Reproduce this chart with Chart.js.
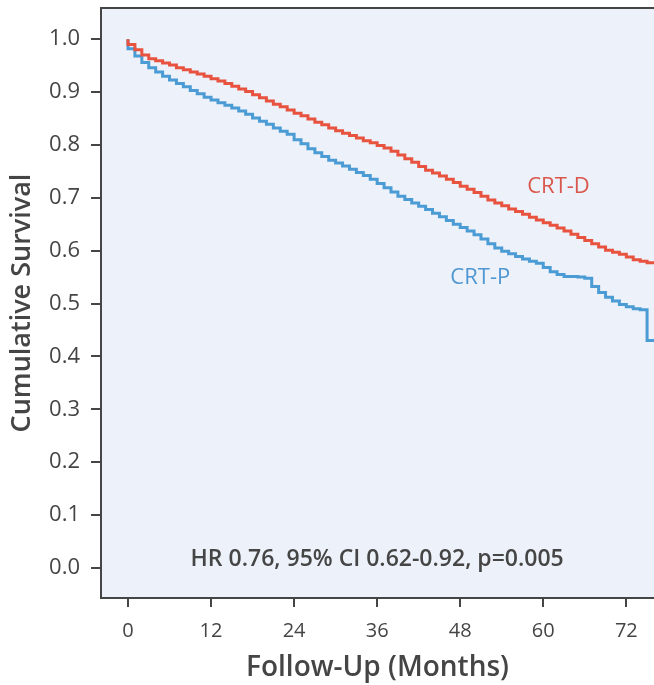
<!DOCTYPE html>
<html>
<head>
<meta charset="utf-8">
<script src="https://cdn.jsdelivr.net/npm/chart.js@4"></script>
<style>
  html, body { margin: 0; padding: 0; background: #fff; }
  #wrap { width: 654px; height: 685px; }
</style>
</head>
<body>
<div id="wrap"><canvas id="grafico-supervivencia" width="654" height="685"></canvas></div>
<script>
// Meses de seguimiento y supervivencia acumulada por grupo
const meses = [
  0, 1, 2, 3, 4, 5, 6, 7, 8, 9, 10, 11, 12, 13, 14, 15, 16, 17, 18, 19,
  20, 21, 22, 23, 24, 25, 26, 27, 28, 29, 30, 31, 32, 33, 34, 35, 36, 37, 38, 39,
  40, 41, 42, 43, 44, 45, 46, 47, 48, 49, 50, 51, 52, 53, 54, 55, 56, 57, 58, 59,
  60, 61, 62, 63, 64, 65, 66, 67, 68, 69, 70, 71, 72, 73, 74, 75, 76
];

const crtD = [
  1.000, 0.990, 0.980, 0.970, 0.963, 0.959, 0.955, 0.951, 0.946, 0.942,
  0.938, 0.934, 0.930, 0.925, 0.921, 0.916, 0.911, 0.906, 0.901, 0.895,
  0.889, 0.883, 0.877, 0.872, 0.866, 0.860, 0.855, 0.849, 0.843, 0.838,
  0.832, 0.827, 0.822, 0.818, 0.813, 0.808, 0.804, 0.799, 0.794, 0.788,
  0.781, 0.774, 0.767, 0.759, 0.752, 0.747, 0.741, 0.735, 0.729, 0.722,
  0.716, 0.710, 0.703, 0.696, 0.690, 0.685, 0.679, 0.674, 0.669, 0.663,
  0.658, 0.653, 0.648, 0.643, 0.637, 0.631, 0.625, 0.619, 0.613, 0.607,
  0.601, 0.597, 0.593, 0.588, 0.583, 0.580, 0.577
];

const crtP = [
  1.000, 0.982, 0.968, 0.956, 0.946, 0.938, 0.930, 0.923, 0.916, 0.910,
  0.903, 0.897, 0.890, 0.885, 0.880, 0.875, 0.870, 0.864, 0.858, 0.851,
  0.845, 0.839, 0.832, 0.826, 0.820, 0.810, 0.802, 0.793, 0.785, 0.778,
  0.771, 0.766, 0.760, 0.754, 0.748, 0.742, 0.735, 0.727, 0.719, 0.711,
  0.703, 0.697, 0.690, 0.684, 0.678, 0.671, 0.664, 0.657, 0.650, 0.644,
  0.637, 0.630, 0.622, 0.613, 0.605, 0.599, 0.594, 0.589, 0.584, 0.580,
  0.576, 0.568, 0.560, 0.555, 0.551, 0.551, 0.550, 0.548, 0.532, 0.521,
  0.512, 0.505, 0.498, 0.494, 0.490, 0.488, 0.430
];

const ticksX = [0, 12, 24, 36, 48, 60, 72];
const ticksY = [0, 0.1, 0.2, 0.3, 0.4, 0.5, 0.6, 0.7, 0.8, 0.9, 1.0];

const textoHR = 'HR 0.76, 95% CI 0.62-0.92, p=0.005';

const gris = '#454545';
const fuente = "'Open Sans', 'Noto Sans', sans-serif";

// Fondo del área, borde superior y rótulos dentro del gráfico
const decoracion = {
  id: 'decoracion',
  beforeDraw(chart) {
    const { ctx, chartArea: a } = chart;
    ctx.save();
    ctx.fillStyle = '#edf1f9';
    ctx.fillRect(a.left, a.top, a.right - a.left, a.bottom - a.top);
    ctx.strokeStyle = gris;
    ctx.lineWidth = 2;
    ctx.beginPath();
    ctx.moveTo(a.left, a.top);
    ctx.lineTo(a.right, a.top);
    ctx.stroke();
    ctx.restore();
  },
  afterDatasetsDraw(chart) {
    const { ctx, scales: { x, y } } = chart;
    ctx.save();
    ctx.textAlign = 'center';
    ctx.textBaseline = 'middle';
    ctx.font = `400 22px ${fuente}`;
    ctx.fillStyle = '#d9574c';
    ctx.fillText('CRT-D', x.getPixelForValue(62.2), y.getPixelForValue(0.720));
    ctx.fillStyle = '#4f97d3';
    ctx.fillText('CRT-P', x.getPixelForValue(50.9), y.getPixelForValue(0.548));
    ctx.font = `600 23px ${fuente}`;
    ctx.fillStyle = gris;
    ctx.fillText(textoHR, x.getPixelForValue(36), y.getPixelForValue(0.015));
    ctx.restore();
  }
};

const ctx = document.getElementById('grafico-supervivencia').getContext('2d');
new Chart(ctx, {
  type: 'line',
  data: {
    datasets: [{
      label: 'CRT-D',
      data: meses.map((m, i) => ({ x: m, y: crtD[i] })),
      borderColor: '#e8533f',
      borderWidth: 3,
      stepped: 'after',
      pointRadius: 0
    }, {
      label: 'CRT-P',
      data: meses.map((m, i) => ({ x: m, y: crtP[i] })),
      borderColor: '#4b9bd5',
      borderWidth: 3,
      stepped: 'after',
      pointRadius: 0
    }]
  },
  options: {
    responsive: false,
    animation: false,
    layout: { padding: { top: 8, left: 0, right: 0, bottom: 0 } },
    plugins: {
      legend: { display: false },
      tooltip: { enabled: false }
    },
    scales: {
      x: {
        type: 'linear',
        min: -3.9,
        max: 76,
        afterBuildTicks: s => { s.ticks = ticksX.map(v => ({ value: v })); },
        afterFit: s => { s.height = 87; s.paddingLeft = 0; s.paddingRight = 0; },
        grid: { drawOnChartArea: false, drawTicks: true, tickLength: 9, color: gris, lineWidth: 2 },
        border: { display: true, color: gris, width: 2 },
        ticks: { color: gris, padding: 12, font: { family: fuente, size: 20 } },
        title: {
          display: true,
          text: 'Follow-Up (Months)',
          color: gris,
          font: { family: fuente, size: 28, weight: '600' },
          padding: { top: -5, bottom: 0 }
        }
      },
      y: {
        min: -0.057,
        max: 1.059,
        afterBuildTicks: s => { s.ticks = ticksY.map(v => ({ value: v })); },
        afterFit: s => { s.width = 101; s.paddingTop = 0; s.paddingBottom = 0; },
        grid: { drawOnChartArea: false, drawTicks: true, tickLength: 10, color: gris, lineWidth: 2 },
        border: { display: true, color: gris, width: 2 },
        ticks: {
          color: gris,
          padding: 11,
          font: { family: fuente, size: 22 },
          callback: v => v.toFixed(1)
        },
        title: {
          display: true,
          text: 'Cumulative Survival',
          color: gris,
          font: { family: fuente, size: 27, weight: '600' },
          padding: { top: 6, bottom: 0 }
        }
      }
    }
  },
  plugins: [decoracion]
});
</script>
</body>
</html>
